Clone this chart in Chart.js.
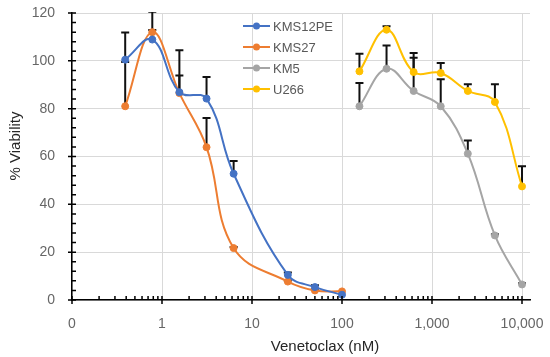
<!DOCTYPE html>
<html>
<head>
<meta charset="utf-8">
<script src="https://cdn.jsdelivr.net/npm/chart.js@4.4.1/dist/chart.umd.min.js"></script>
<style>
  body { margin: 0; background: #fff; }
  canvas { display: block; }
</style>
</head>
<body>
<canvas id="chart" width="550" height="357"></canvas>
<script>
// concentrations (nM)
var concLow = [0.39, 0.78, 1.56, 3.125, 6.25, 25, 50, 100];
var concHigh = [156.25, 312.5, 625, 1250, 2500, 5000, 10000];

// % viability and upper error bars
var kms12pe = [100.5, 108.9, 86.9, 84.2, 52.8, 10.5, 5.4, 2.2];
var kms12peErr = [11.3, 4, 7, 9, 5.3, 1, 0.8, 0];
var kms27 = [81.0, 112.0, 86.5, 63.9, 21.7, 7.7, 4.0, 3.6];
var kms27Err = [18.5, 8.5, 17.9, 12.2, 0.5, 0.5, 0.5, 0];
var km5 = [81.0, 96.7, 87.4, 81.0, 61.2, 27.0, 6.5];
var km5Err = [9.7, 9.7, 13.9, 11.3, 5.5, 0.5, 0.5];
var u266 = [95.6, 113.0, 95.3, 94.9, 87.4, 82.8, 47.5];
var u266Err = [7.4, 1.5, 8, 4.2, 2.8, 7.4, 8.4];

var xTicks = [0.1, 1, 10, 100, 1000, 10000];
var xTickLabels = ["0", "1", "10", "100", "1,000", "10,000"];

var FONT = "'Liberation Sans', Arial, sans-serif";

function pts(xs, ys) {
    return xs.map(function(x, i){ return {x: x, y: ys[i]}; });
}

function series(label, xs, ys, err, color) {
    return {
        label: label,
        data: pts(xs, ys),
        err: err,
        borderColor: color,
        backgroundColor: color,
        borderWidth: 2,
        pointRadius: 3.5,
        pointBorderWidth: 1,
        tension: 0.4
    };
}

function noPad(scale) {
    scale.paddingLeft = 0;
    scale.paddingRight = 0;
    scale.paddingTop = 0;
    scale.paddingBottom = 0;
}

//error bars, drawn under the lines
var errorBars = {
    id: "errorBars",
    beforeDatasetsDraw: function(chart) {
        var ctx = chart.ctx, ys = chart.scales.y, a = chart.chartArea;
        ctx.save();
        ctx.beginPath();
        ctx.rect(a.left, a.top - 1, a.right - a.left, a.bottom - a.top + 1);
        ctx.clip();
        ctx.strokeStyle = "#111";
        ctx.lineWidth = 2;
        chart.data.datasets.forEach(function(ds, i){
            var meta = chart.getDatasetMeta(i);
            ds.data.forEach(function(p, j){
                if (!ds.err[j]) return;
                var el = meta.data[j];
                var top = ys.getPixelForValue(p.y + ds.err[j]);
                ctx.beginPath();
                ctx.moveTo(el.x, el.y);
                ctx.lineTo(el.x, top);
                ctx.moveTo(el.x - 4, top);
                ctx.lineTo(el.x + 4, top);
                ctx.stroke();
            });
        });
        ctx.restore();
    }
};

//major ticks cross the axes, minor ticks point inward; titles and legend
var extras = {
    id: "extras",
    afterDraw: function(chart) {
        var ctx = chart.ctx, xs = chart.scales.x, ys = chart.scales.y, a = chart.chartArea;
        ctx.save();
        ctx.strokeStyle = "#000";
        ctx.lineWidth = 1.5;
        ctx.beginPath();
        for (var v = 0; v <= 120; v += 4) {
            var py = ys.getPixelForValue(v);
            var major = (v % 20 === 0);
            ctx.moveTo(major ? a.left - 4 : a.left, py);
            ctx.lineTo(a.left + 4, py);
        }
        for (var d = 0.1; d < 20000; d *= 10) {
            for (var k = 1; k <= 9; k++) {
                var val = k * d;
                if (val > xs.max) break;
                var px = xs.getPixelForValue(val);
                ctx.moveTo(px, a.bottom - 4);
                ctx.lineTo(px, k === 1 ? a.bottom + 4 : a.bottom);
            }
        }
        ctx.stroke();

        // axis titles
        ctx.fillStyle = "#262626";
        ctx.font = "15px " + FONT;
        ctx.textAlign = "center";
        ctx.textBaseline = "middle";
        ctx.fillText("Venetoclax (nM)", 325, 347);
        ctx.save();
        ctx.translate(16, 146);
        ctx.rotate(-Math.PI / 2);
        ctx.fillText("% Viability", 0, 0);
        ctx.restore();

        // legend
        ctx.font = "13px " + FONT;
        ctx.textAlign = "left";
        chart.data.datasets.forEach(function(ds, i){
            var y = 26 + i * 21;
            ctx.strokeStyle = ds.borderColor;
            ctx.lineWidth = 2;
            ctx.beginPath();
            ctx.moveTo(243, y);
            ctx.lineTo(270, y);
            ctx.stroke();
            ctx.fillStyle = ds.borderColor;
            ctx.beginPath();
            ctx.arc(256.5, y, 3.5, 0, Math.PI * 2);
            ctx.fill();
            ctx.fillStyle = "#595959";
            ctx.fillText(ds.label, 273, y + 1);
        });
        ctx.restore();
    }
};

var chart = new Chart(document.getElementById("chart"), {
    type: "line",
    data: {
        datasets: [
            series("KMS12PE", concLow, kms12pe, kms12peErr, "#4472C4"),
            series("KMS27", concLow, kms27, kms27Err, "#ED7D31"),
            series("KM5", concHigh, km5, km5Err, "#A5A5A5"),
            series("U266", concHigh, u266, u266Err, "#FFC000")
        ]
    },
    options: {
        responsive: false,
        animation: false,
        layout: { padding: { left: 0, right: 20, top: 13, bottom: 0 } },
        plugins: {
            legend: { display: false },
            tooltip: { enabled: false }
        },
        scales: {
            x: {
                type: "logarithmic",
                min: 0.1,
                max: 12270,
                afterBuildTicks: function(scale) {
                    scale.ticks = xTicks.map(function(v){ return {value: v}; });
                },
                afterFit: function(scale) { scale.height = 57; noPad(scale); },
                grid: { color: "#d9d9d9", drawTicks: false },
                border: { color: "#000", width: 1.5 },
                ticks: {
                    padding: 16,
                    color: "#666",
                    font: { family: FONT, size: 14 },
                    autoSkip: false,
                    maxRotation: 0,
                    callback: function(v, i) { return xTickLabels[i]; }
                }
            },
            y: {
                min: 0,
                max: 120,
                afterFit: function(scale) { scale.width = 72; noPad(scale); },
                grid: { color: "#d9d9d9", drawTicks: false },
                border: { color: "#000", width: 1.5 },
                ticks: {
                    stepSize: 20,
                    padding: 17,
                    color: "#666",
                    font: { family: FONT, size: 14 }
                }
            }
        }
    },
    plugins: [errorBars, extras]
});
</script>
</body>
</html>
